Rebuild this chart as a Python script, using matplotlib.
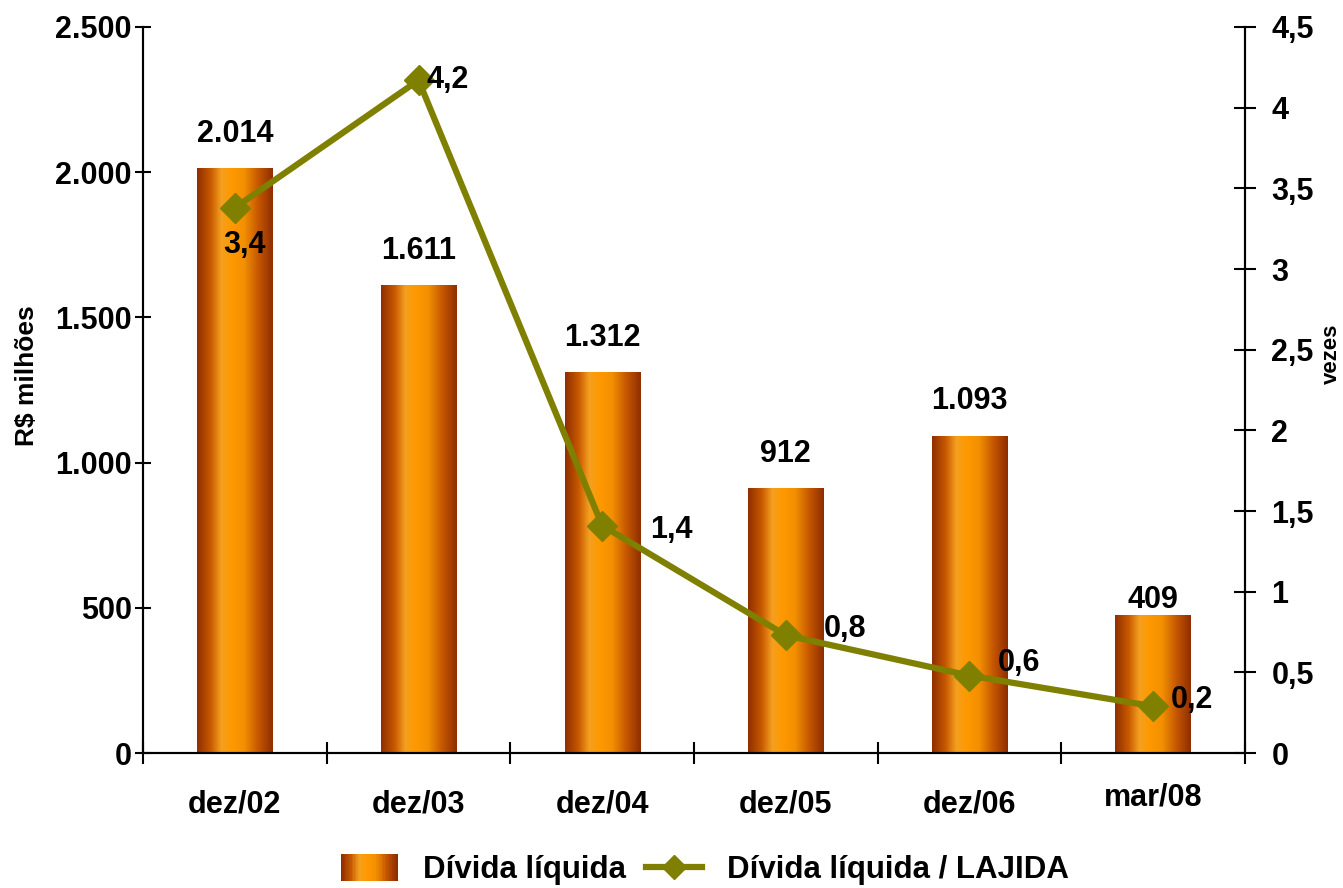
import numpy as np
import matplotlib.pyplot as plt
from matplotlib.colors import LinearSegmentedColormap
from matplotlib.legend_handler import HandlerBase
from matplotlib.lines import Line2D
from matplotlib.patches import Rectangle
from matplotlib.ticker import FixedLocator, FuncFormatter
from matplotlib.transforms import ScaledTranslation

plt.rcParams['font.family'] = ['Liberation Sans', 'DejaVu Sans']
plt.rcParams['font.weight'] = 'bold'

categories = ['dez/02', 'dez/03', 'dez/04', 'dez/05', 'dez/06', 'mar/08']
divida = [2014, 1611, 1312, 912, 1093, 409]
bar_heights = [2014, 1611, 1312, 912, 1093, 476]   # last bar is drawn taller than its value
divida_labels = ['2.014', '1.611', '1.312', '912', '1.093', '409']
ratio = [3.38, 4.17, 1.41, 0.73, 0.48, 0.29]
ratio_labels = ['3,4', '4,2', '1,4', '0,8', '0,6', '0,2']

bar_cmap = LinearSegmentedColormap.from_list(
    'bar', [(0, '#8E2E00'), (0.18, '#C85A00'), (0.32, '#F4A020'),
            (0.45, '#FF9900'), (0.62, '#F39000'), (0.82, '#C25400'), (1, '#8E2E00')])
olive = '#808000'
fs = 22

fig = plt.figure(figsize=(13.43, 8.88), dpi=100)
ax = fig.add_axes([0.1065, 0.152, 0.8205, 0.8176])
ax2 = ax.twinx()

pos = np.arange(len(categories))
width = 0.41
bars = ax.bar(pos, bar_heights, width, color='#FF9900', zorder=1)
grad = np.linspace(0, 1, 256).reshape(1, -1)
for b in bars:
    x0, w, h = b.get_x(), b.get_width(), b.get_height()
    im = ax.imshow(grad, cmap=bar_cmap, aspect='auto', extent=[x0, x0 + w, 0, h],
                   zorder=2, interpolation='bicubic')
    im.set_clip_path(b)
for p, v, t in zip(pos, divida, divida_labels):
    ax.text(p, v + 118, t, ha='center', va='center', fontsize=fs, fontweight='bold')

ax.set_xlim(-0.5, 5.5)
ax.set_ylim(0, 2500)
ax.set_yticks(range(0, 2501, 500))
ax.yaxis.set_major_formatter(FuncFormatter(lambda v, _: f'{int(v):,}'.replace(',', '.')))
ax.set_xticks(pos)
ax.set_xticklabels(categories)
ax.xaxis.set_minor_locator(FixedLocator(np.arange(-0.5, 5.6, 1)))
ax.tick_params(axis='x', which='major', length=0, pad=26, labelsize=fs)
ax.tick_params(axis='x', which='minor', direction='inout', length=16, width=1.5)
ax.tick_params(axis='y', direction='inout', length=12, width=1.5, labelsize=fs, pad=2)
ax.set_ylabel('R$ milhões', fontsize=19, fontweight='bold')
ax.yaxis.set_label_coords(-0.094, 0.52)
lab = ax.get_xticklabels()[-1]
lab.set_transform(lab.get_transform() + ScaledTranslation(0, 0.07, fig.dpi_scale_trans))

ax2.plot(pos, ratio, color=olive, lw=4.5, marker='D', markersize=15, zorder=5)
ax2.set_ylim(0, 4.5)
ax2.set_yticks(np.arange(0, 4.51, 0.5))
ax2.yaxis.set_major_formatter(FuncFormatter(lambda v, _: (f'{v:g}').replace('.', ',')))
ax2.tick_params(axis='y', direction='inout', length=16, width=1.5, labelsize=fs, pad=11)
ax2.set_ylabel('vezes', fontsize=16, fontweight='bold')
ax2.yaxis.set_label_coords(1.069, 0.55)

offsets = [(0.05, -0.23), (0.16, 0.0), (0.375, -0.03), (0.32, 0.04), (0.27, 0.08), (0.21, 0.04)]
for p, v, t, (dx, dy) in zip(pos, ratio, ratio_labels, offsets):
    ax2.text(p + dx, v + dy, t, ha='center', va='center', fontsize=fs, fontweight='bold', zorder=6)

for a in (ax, ax2):
    a.spines['top'].set_visible(False)
    for s in a.spines.values():
        s.set_linewidth(1.5)
ax.set_zorder(1)
ax2.set_zorder(2)
ax2.patch.set_visible(False)


class GradientHandler(HandlerBase):
    def create_artists(self, legend, orig, xd, yd, w, h, fontsize, trans):
        n = 40
        arts = []
        for i in range(n):
            r = Rectangle((xd + w * i / n, yd - 2), w / n * 1.05, h + 4,
                          color=bar_cmap(i / (n - 1)), transform=trans, lw=0)
            arts.append(r)
        return arts


bar_handle = Rectangle((0, 0), 1, 1)
line_handle = Line2D([], [], color=olive, lw=4.5, marker='D', markersize=12)
fig.legend([bar_handle, line_handle], ['Dívida líquida', 'Dívida líquida / LAJIDA'],
           handler_map={Rectangle: GradientHandler()},
           loc='center', bbox_to_anchor=(0.525, 0.02), ncol=2, frameon=False,
           fontsize=22.5, handlelength=1.82, columnspacing=0.64, handletextpad=0.8)

plt.savefig('out.png')
